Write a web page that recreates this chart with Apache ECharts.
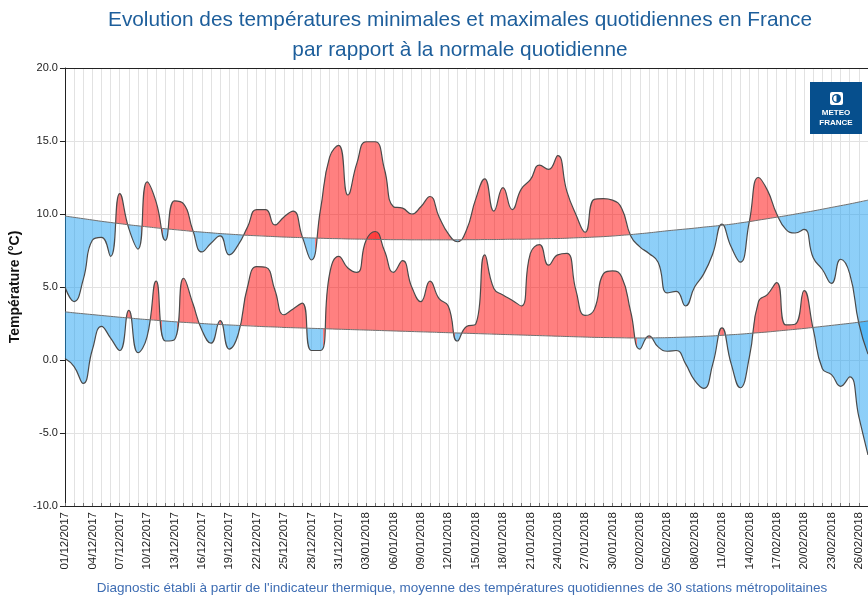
<!DOCTYPE html>
<html>
<head>
<meta charset="utf-8">
<script src="https://cdn.jsdelivr.net/npm/echarts@6/dist/echarts.min.js"></script>
<style>
html,body{margin:0;padding:0;background:#fff;}
#chart{width:868px;height:597px;}
</style>
</head>
<body>
<div id="chart"></div>
<script>
// ---- Data ----
const dates = [
 '01/12/2017','02/12/2017','03/12/2017','04/12/2017','05/12/2017','06/12/2017','07/12/2017','08/12/2017','09/12/2017','10/12/2017',
 '11/12/2017','12/12/2017','13/12/2017','14/12/2017','15/12/2017','16/12/2017','17/12/2017','18/12/2017','19/12/2017','20/12/2017',
 '21/12/2017','22/12/2017','23/12/2017','24/12/2017','25/12/2017','26/12/2017','27/12/2017','28/12/2017','29/12/2017','30/12/2017',
 '31/12/2017','01/01/2018','02/01/2018','03/01/2018','04/01/2018','05/01/2018','06/01/2018','07/01/2018','08/01/2018','09/01/2018',
 '10/01/2018','11/01/2018','12/01/2018','13/01/2018','14/01/2018','15/01/2018','16/01/2018','17/01/2018','18/01/2018','19/01/2018',
 '20/01/2018','21/01/2018','22/01/2018','23/01/2018','24/01/2018','25/01/2018','26/01/2018','27/01/2018','28/01/2018','29/01/2018',
 '30/01/2018','31/01/2018','01/02/2018','02/02/2018','03/02/2018','04/02/2018','05/02/2018','06/02/2018','07/02/2018','08/02/2018',
 '09/02/2018','10/02/2018','11/02/2018','12/02/2018','13/02/2018','14/02/2018','15/02/2018','16/02/2018','17/02/2018','18/02/2018',
 '19/02/2018','20/02/2018','21/02/2018','22/02/2018','23/02/2018','24/02/2018','25/02/2018','26/02/2018','27/02/2018'
];

const tmax = [
 5.0,4.0,5.5,8.2,8.4,7.1,11.4,9.0,7.6,12.2,
 10.8,8.2,10.9,10.7,8.9,7.4,8.0,8.5,7.2,7.9,
 9.1,10.3,10.3,9.25,9.8,10.2,8.45,6.85,10.3,13.9,
 14.7,11.3,13.5,14.95,14.95,13.1,10.5,10.4,10.0,10.5,
 11.2,9.8,8.65,8.1,8.9,11.0,12.4,10.2,11.8,10.3,
 11.7,12.35,13.35,13.05,14.0,11.55,9.95,8.75,11.0,11.05,
 10.95,10.4,8.5,7.75,7.3,6.7,4.6,4.7,3.7,5.0,
 5.9,7.3,9.3,7.75,6.7,9.5,12.5,11.6,10.0,8.95,
 8.7,8.95,7.0,6.2,5.25,6.9,5.9,2.5,0.4
];

const tmaxNormal = [
 9.86,9.77,9.68,9.59,9.50,9.42,9.34,9.26,9.19,9.12,
 9.05,8.99,8.93,8.87,8.81,8.76,8.71,8.66,8.62,8.58,
 8.54,8.51,8.48,8.45,8.42,8.40,8.38,8.36,8.34,8.32,
 8.31,8.29,8.28,8.27,8.26,8.25,8.24,8.24,8.23,8.23,
 8.23,8.23,8.23,8.23,8.24,8.24,8.25,8.25,8.26,8.27,
 8.27,8.28,8.29,8.31,8.32,8.34,8.37,8.39,8.42,8.45,
 8.49,8.54,8.59,8.65,8.71,8.78,8.85,8.91,8.97,9.03,
 9.10,9.16,9.23,9.30,9.39,9.48,9.58,9.68,9.78,9.88,
 9.99,10.10,10.21,10.33,10.45,10.57,10.69,10.82,10.95
];

const tmin = [
 0.1,-0.45,-1.6,0.7,2.3,1.5,0.65,3.4,0.5,1.6,
 5.4,1.3,1.4,5.6,3.9,2.05,1.15,2.7,0.75,1.8,
 5.0,6.4,6.35,4.8,3.1,3.5,3.9,0.65,0.65,5.9,
 7.1,6.3,6.0,8.2,8.8,7.5,6.0,6.8,5.0,4.0,
 5.4,4.2,3.7,1.3,2.3,2.45,7.2,4.9,4.45,4.1,
 3.7,7.3,7.9,6.5,7.2,7.3,4.75,3.05,3.45,5.9,
 6.1,5.7,3.3,0.75,1.65,0.9,0.6,0.65,-0.25,-1.4,
 -1.95,-0.25,2.2,-0.25,-1.9,0.2,4.0,4.5,5.3,2.4,
 2.45,4.75,2.1,-0.6,-1.0,-1.8,-1.15,-3.9,-6.5
];

const tminNormal = [
 3.30,3.23,3.17,3.11,3.05,2.99,2.93,2.88,2.82,2.77,
 2.72,2.67,2.62,2.58,2.54,2.50,2.46,2.43,2.40,2.37,
 2.34,2.31,2.28,2.26,2.23,2.21,2.19,2.17,2.15,2.13,
 2.11,2.09,2.07,2.05,2.03,2.01,1.99,1.97,1.95,1.93,
 1.91,1.89,1.87,1.85,1.83,1.81,1.79,1.77,1.75,1.73,
 1.71,1.69,1.67,1.65,1.63,1.61,1.59,1.57,1.55,1.54,
 1.53,1.52,1.51,1.51,1.51,1.52,1.53,1.55,1.57,1.59,
 1.62,1.65,1.69,1.73,1.77,1.82,1.87,1.92,1.98,2.04,
 2.10,2.16,2.23,2.30,2.37,2.44,2.51,2.59,2.67
];

const yMin = -10, yMax = 20, yStep = 5;
const labelEvery = 3;

// ---- Styling ----
const FONT = 'Liberation Sans, Arial, sans-serif';
const WARM = '#ff0000';
const COLD = '#1c9ff2';

// pieces along x: red where actual above normal, blue where below
function signPieces(actual, normal) {
  const d = actual.map((v, i) => v - normal[i]);
  const pieces = [];
  let start = -1;
  for (let i = 0; i < d.length - 1; i++) {
    if ((d[i] >= 0) !== (d[i + 1] >= 0)) {
      const x = i + d[i] / (d[i] - d[i + 1]);
      pieces.push({ gte: start, lt: x, color: d[i] >= 0 ? WARM : COLD });
      start = x;
    }
  }
  pieces.push({ gte: start, lte: d.length + 1, color: d[d.length - 1] >= 0 ? WARM : COLD });
  return pieces;
}

// rows are [value, dayIndex] so the value dimension comes first and gets stacked
const rows = arr => arr.map((v, i) => [v, i]);
const diffRows = (a, n) => a.map((v, i) => [+(v - n[i]).toFixed(4), i]);
const ENC = { x: 1, y: 0 };

const chart = echarts.init(document.getElementById('chart'), null, { renderer: 'canvas' });

const option = {
  animation: false,
  backgroundColor: '#ffffff',
  textStyle: { fontFamily: FONT },
  title: [
    {
      text: 'Evolution des températures minimales et maximales quotidiennes en France\npar rapport à la normale quotidienne',
      left: 460, top: 5, padding: 0, textAlign: 'center',
      textStyle: { fontFamily: FONT, fontSize: 20.8, fontWeight: 'normal', color: '#1d5e9b', lineHeight: 30 }
    },
    {
      text: "Diagnostic établi à partir de l'indicateur thermique, moyenne des températures quotidiennes de 30 stations métropolitaines",
      left: 462, top: 581, padding: 0, textAlign: 'center',
      textStyle: { fontFamily: FONT, fontSize: 13.5, fontWeight: 'normal', color: '#3e6db3' }
    }
  ],
  grid: { left: 64, right: 0, top: 68, bottom: 91, containLabel: false },
  xAxis: [
    {
      type: 'value', min: 0, max: dates.length - 1, interval: 1,
      axisLine: { show: true, onZero: false, lineStyle: { color: '#222', width: 1 } },
      axisTick: { show: true, inside: true, length: 3, lineStyle: { color: '#777' } },
      axisLabel: {
        rotate: 90, fontSize: 11.5, color: '#222', margin: 6, fontFamily: FONT,
        formatter: v => (v % labelEvery === 0 ? dates[v] : '')
      },
      splitLine: { show: true, lineStyle: { color: '#e2e2e2', width: 1 } }
    },
    {
      type: 'value', position: 'top', min: 0, max: dates.length - 1,
      axisLine: { show: true, onZero: false, lineStyle: { color: '#222', width: 1 } },
      axisTick: { show: false }, axisLabel: { show: false }, splitLine: { show: false }
    }
  ],
  yAxis: {
    type: 'value', min: yMin, max: yMax, interval: yStep,
    name: 'Température (°C)', nameLocation: 'middle', nameGap: 40,
    nameTextStyle: { fontFamily: FONT, fontWeight: 'bold', fontSize: 14, color: '#111' },
    axisLine: { show: true, onZero: false, lineStyle: { color: '#222', width: 1 } },
    axisTick: { show: true, length: 5, lineStyle: { color: '#222' } },
    axisLabel: { formatter: v => v.toFixed(1), fontSize: 11, color: '#222', margin: 7, fontFamily: FONT },
    splitLine: { show: true, lineStyle: { color: '#e2e2e2', width: 1 } }
  },
  visualMap: [
    { type: 'piecewise', show: false, dimension: 1, seriesIndex: 1, pieces: signPieces(tmax, tmaxNormal) },
    { type: 'piecewise', show: false, dimension: 1, seriesIndex: 3, pieces: signPieces(tmin, tminNormal) }
  ],
  series: [
    {
      type: 'line', name: 'Normale Tmax', data: rows(tmaxNormal), encode: ENC,
      stack: 'max', stackStrategy: 'all', smooth: true, symbol: 'none',
      lineStyle: { color: '#6f6f6f', width: 1 }, z: 4
    },
    {
      type: 'line', name: 'Tmax', data: diffRows(tmax, tmaxNormal), encode: ENC,
      stack: 'max', stackStrategy: 'all', smooth: true, symbol: 'none',
      lineStyle: { color: '#4a4a4a', width: 1.2 },
      areaStyle: { opacity: 0.5 }, z: 3
    },
    {
      type: 'line', name: 'Normale Tmin', data: rows(tminNormal), encode: ENC,
      stack: 'min', stackStrategy: 'all', smooth: true, symbol: 'none',
      lineStyle: { color: '#6f6f6f', width: 1 }, z: 4
    },
    {
      type: 'line', name: 'Tmin', data: diffRows(tmin, tminNormal), encode: ENC,
      stack: 'min', stackStrategy: 'all', smooth: true, symbol: 'none',
      lineStyle: { color: '#4a4a4a', width: 1.2 },
      areaStyle: { opacity: 0.5 }, z: 3
    }
  ],
  graphic: [
    { type: 'rect', z: 100, shape: { x: 810, y: 82, width: 52, height: 52 }, style: { fill: '#064f8d' } },
    { type: 'rect', z: 101, shape: { x: 830, y: 92, width: 13, height: 13, r: 2 }, style: { fill: '#ffffff' } },
    { type: 'circle', z: 102, shape: { cx: 836.5, cy: 98.5, r: 4.5 }, style: { fill: '#064f8d' } },
    { type: 'sector', z: 103, shape: { cx: 836.5, cy: 98.5, r0: 0, r: 3.2, startAngle: Math.PI / 2, endAngle: Math.PI * 1.5 }, style: { fill: '#ffffff' } },
    { type: 'text', z: 104, style: { text: 'METEO\nFRANCE', x: 836, y: 108, fill: '#ffffff', font: 'bold 8px Liberation Sans, Arial, sans-serif', align: 'center', lineHeight: 10 } }
  ]
};

chart.setOption(option);
</script>
</body>
</html>
